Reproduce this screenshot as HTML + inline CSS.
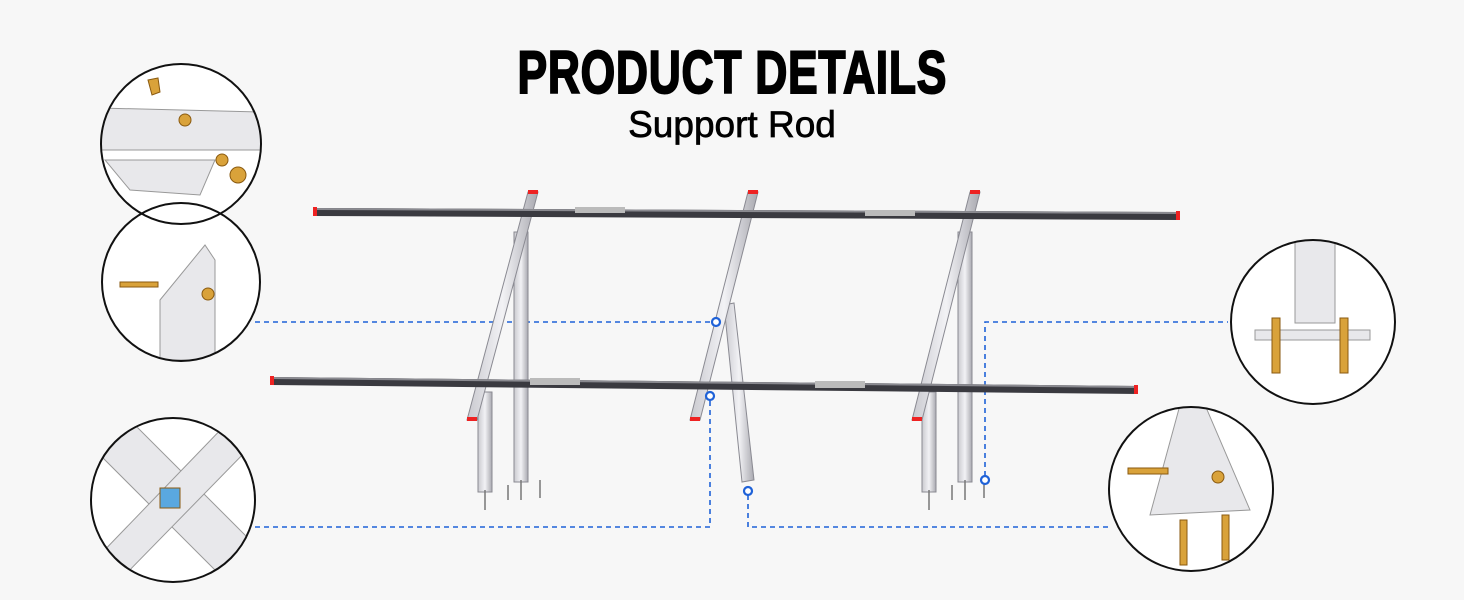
<!DOCTYPE html>
<html><head><meta charset="utf-8"><style>
html,body{margin:0;padding:0;background:#f7f7f7;}
body{width:1464px;height:600px;overflow:hidden;position:relative;font-family:"Liberation Sans",sans-serif;}
.t{position:absolute;left:0;width:1464px;text-align:center;color:#000;}
</style></head><body>
<div class="t" style="top:38px;font-size:60px;font-weight:900;letter-spacing:1px;"><span style="display:inline-block;transform:scaleX(0.74);-webkit-text-stroke:2px #000;">PRODUCT DETAILS</span></div>
<div class="t" style="top:104px;font-size:37px;"><span style="-webkit-text-stroke:0.7px #000;">Support Rod</span></div>
<svg width="1464" height="600" style="position:absolute;left:0;top:0" xmlns="http://www.w3.org/2000/svg">
<defs>
<linearGradient id="rod" x1="0" x2="1"><stop offset="0" stop-color="#c9c9cf"/><stop offset="0.5" stop-color="#f2f2f5"/><stop offset="1" stop-color="#a9a9b0"/></linearGradient>
<clipPath id="c1"><circle cx="181" cy="144" r="79"/></clipPath>
<clipPath id="c2"><circle cx="181" cy="282" r="78"/></clipPath>
<clipPath id="c3"><circle cx="173" cy="500" r="81"/></clipPath>
<clipPath id="c4"><circle cx="1313" cy="322" r="81"/></clipPath>
<clipPath id="c5"><circle cx="1191" cy="489" r="81"/></clipPath>
</defs>
<g stroke="#1f62d8" stroke-width="1.6" stroke-dasharray="5,4" fill="none">
<polyline points="255,322 712,322"/>
<polyline points="255,527 710,527 710,400"/>
<polyline points="748,495 748,527 1110,527"/>
<polyline points="985,476 985,322 1228,322"/>
</g>
<g fill="url(#rod)" stroke="#8a8a92" stroke-width="1">
<rect x="514" y="232" width="14" height="250"/>
<rect x="478" y="392" width="14" height="100"/>
<rect x="958" y="232" width="14" height="250"/>
<rect x="922" y="392" width="14" height="100"/>
<polygon points="724,305 734,303 754,480 742,482"/>
</g>
<g stroke="#777" stroke-width="1.5">
<line x1="485" y1="490" x2="485" y2="510"/><line x1="521" y1="480" x2="521" y2="500"/>
<line x1="929" y1="490" x2="929" y2="510"/><line x1="965" y1="480" x2="965" y2="500"/>
<line x1="508" y1="485" x2="508" y2="500"/><line x1="540" y1="480" x2="540" y2="498"/>
<line x1="952" y1="485" x2="952" y2="500"/><line x1="984" y1="480" x2="984" y2="498"/>
</g>
<g fill="url(#rod)" stroke="#8a8a92" stroke-width="1">
<polygon points="528,192 538,192 477,420 467,420"/>
<polygon points="748,192 758,192 700,420 690,420"/>
<polygon points="970,192 980,192 922,420 912,420"/>
</g>
<g fill="#e22">
<rect x="528" y="190" width="10" height="4"/><rect x="467" y="417" width="10" height="4"/>
<rect x="748" y="190" width="10" height="4"/><rect x="690" y="417" width="10" height="4"/>
<rect x="970" y="190" width="10" height="4"/><rect x="912" y="417" width="10" height="4"/>
</g>
<polygon points="315,208 1180,212 1180,220 315,216" fill="#3a3a40"/>
<polygon points="315,208 1180,212 1180,214 315,210" fill="#8a8a90"/>
<polygon points="272,377 1138,386 1138,394 272,385" fill="#3a3a40"/>
<polygon points="272,377 1138,386 1138,388 272,379" fill="#8a8a90"/>
<rect x="313" y="207" width="4" height="9" fill="#e22"/><rect x="1176" y="211" width="4" height="9" fill="#e22"/>
<rect x="270" y="376" width="4" height="9" fill="#e22"/><rect x="1134" y="385" width="4" height="9" fill="#e22"/>
<rect x="575" y="207" width="50" height="6" fill="#bbb"/><rect x="530" y="378" width="50" height="7" fill="#bbb"/>
<rect x="865" y="210" width="50" height="6" fill="#bbb"/><rect x="815" y="381" width="50" height="7" fill="#bbb"/>
<g fill="#fff" stroke="#1f62d8" stroke-width="2.2">
<circle cx="716" cy="322" r="4"/><circle cx="710" cy="396" r="4"/><circle cx="748" cy="491" r="4"/><circle cx="985" cy="480" r="4"/>
</g>
<g fill="#fff">
<circle cx="181" cy="144" r="80"/><circle cx="181" cy="282" r="79"/><circle cx="173" cy="500" r="82"/>
<circle cx="1313" cy="322" r="82"/><circle cx="1191" cy="489" r="82"/>
</g>
<g fill="#e8e8eb" stroke="#999">
<g clip-path="url(#c1)">
<polygon points="100,108 262,112 262,150 100,150"/>
<polygon points="105,160 215,160 200,195 130,190"/>
</g>
<g clip-path="url(#c2)"><polygon points="160,300 205,245 215,260 215,360 160,360"/></g>
<g clip-path="url(#c3)">
<polygon points="95,450 130,420 250,540 220,575"/>
<polygon points="95,560 230,420 252,445 120,580"/>
</g>
<g clip-path="url(#c4)">
<rect x="1295" y="240" width="40" height="83"/>
<rect x="1255" y="330" width="115" height="10"/>
</g>
<g clip-path="url(#c5)"><polygon points="1180,405 1205,405 1250,510 1150,515"/></g>
</g>
<g fill="#d9a23a" stroke="#8a5a10">
<circle cx="185" cy="120" r="6"/><circle cx="222" cy="160" r="6"/><circle cx="238" cy="175" r="8"/>
<polygon points="148,80 158,78 160,92 152,95"/>
<rect x="120" y="282" width="38" height="5"/><circle cx="208" cy="294" r="6"/>
<rect x="160" y="488" width="20" height="20" fill="#5aa8e0"/>
<rect x="1272" y="318" width="8" height="55"/><rect x="1340" y="318" width="8" height="55"/>
<rect x="1128" y="468" width="40" height="6"/><circle cx="1218" cy="477" r="6"/>
<rect x="1180" y="520" width="7" height="45"/><rect x="1222" y="515" width="7" height="45"/>
</g>
<g fill="none" stroke="#111" stroke-width="2">
<circle cx="181" cy="144" r="80"/><circle cx="181" cy="282" r="79"/><circle cx="173" cy="500" r="82"/>
<circle cx="1313" cy="322" r="82"/><circle cx="1191" cy="489" r="82"/>
</g>
</svg>
</body></html>
